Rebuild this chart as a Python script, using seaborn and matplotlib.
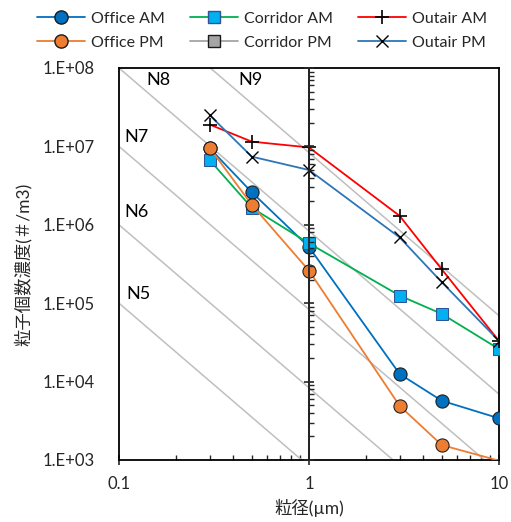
import numpy as np
import pandas as pd
import matplotlib
matplotlib.use("Agg")
import matplotlib.pyplot as plt
from matplotlib.ticker import FuncFormatter, LogLocator, NullFormatter
from matplotlib.lines import Line2D
import seaborn as sns

# Particle sizes (µm) and measured concentrations (#/m3)
sizes = [0.3, 0.5, 1, 3, 5, 10]
office_am = [9.5e6, 2.6e6, 5.2e5, 1.25e4, 5.7e3, 3.4e3]
office_pm = [9.6e6, 1.8e6, 2.6e5, 4.9e3, 1.55e3, 9.8e2]
corridor_am = [6.7e6, 1.65e6, 5.8e5, 1.25e5, 7.3e4, 2.6e4]
corridor_pm = []
outair_am = [1.9e7, 1.15e7, 9.7e6, 1.3e6, 2.7e5, 3.3e4]
outair_pm = [2.5e7, 7.4e6, 5.0e6, 6.9e5, 1.85e5, 3.3e4]

# ISO 14644-1 cleanliness classes drawn as reference lines
iso_classes = [5, 6, 7, 8, 9]
iso_labels = ["N5", "N6", "N7", "N8", "N9"]
iso_label_pos = {"N5": (0.127, 1.31e5), "N6": (0.124, 1.46e6), "N7": (0.123, 1.32e7),
                 "N8": (0.162, 7.0e7), "N9": (0.495, 7.0e7)}

x_label = "粒径(µm)"
y_label = "粒子個数濃度(＃/m3)"

sns.set_style("white")
plt.rcParams["font.family"] = ["Lato", "Noto Sans CJK JP", "DejaVu Sans"]

XMIN, XMAX, YMIN, YMAX = 0.1, 10, 1e3, 1e8

fig = plt.figure(figsize=(5.11, 5.22), dpi=100)
ax = fig.add_axes([119 / 511, 62 / 522, 380 / 511, 392 / 522])
ax.set_xscale("log")
ax.set_yscale("log")
ax.set_xlim(XMIN, XMAX)
ax.set_ylim(YMIN, YMAX)

# class lines: Cn = 10^N * (0.1 / D)^2.08
d_grid = np.logspace(-1, 1, 200)
for n, lab in zip(iso_classes, iso_labels):
    conc = 10.0 ** n * (0.1 / d_grid) ** 2.08
    sns.lineplot(x=d_grid, y=conc, ax=ax, color="#BFBFBF", linewidth=1.1,
                 sort=False, zorder=1)
    tx, ty = iso_label_pos[lab]
    ax.text(tx, ty, lab, fontsize=13, ha="center", va="center", color="#000000")

ax.axvline(1, color="black", linewidth=1.3, zorder=2)

series = [
    ("Office AM", office_am, dict(color="#0070C0", marker="o", markersize=9.5,
                                  markerfacecolor="#0070C0", markeredgecolor="#1A1A1A")),
    ("Corridor AM", corridor_am, dict(color="#00B050", marker="s", markersize=8,
                                      markerfacecolor="#00B0F0", markeredgecolor="#2F5597")),
    ("Outair AM", outair_am, dict(color="#FF0000", marker="+", markersize=10,
                                  markeredgecolor="#000000", markeredgewidth=1.2)),
    ("Office PM", office_pm, dict(color="#ED7D31", marker="o", markersize=9.5,
                                  markerfacecolor="#ED7D31", markeredgecolor="#1A1A1A")),
    ("Corridor PM", corridor_pm, dict(color="#A5A5A5", marker="s", markersize=8,
                                      markerfacecolor="#A5A5A5", markeredgecolor="#1A1A1A")),
    ("Outair PM", outair_pm, dict(color="#2E75B6", marker="x", markersize=8,
                                  markeredgecolor="#000000", markeredgewidth=1.0)),
]

handles = {}
for i, (name, vals, style) in enumerate(series):
    if len(vals):
        df = pd.DataFrame({"size": sizes, "conc": vals})
        inside = [j for j, v in enumerate(vals) if YMIN <= v <= YMAX]
        sns.lineplot(data=df, x="size", y="conc", ax=ax, linewidth=1.3,
                     markevery=inside, zorder=3 + i, **style)
    handles[name] = Line2D([], [], linewidth=1.3, **style)

ax.yaxis.set_major_locator(LogLocator(base=10, numticks=10))
ax.yaxis.set_major_formatter(FuncFormatter(lambda v, p: f"1.E+{int(round(np.log10(v))):02d}"))
ax.yaxis.set_minor_formatter(NullFormatter())
ax.xaxis.set_major_formatter(FuncFormatter(lambda v, p: f"{v:g}"))
ax.xaxis.set_minor_formatter(NullFormatter())
ax.tick_params(axis="y", which="both", left=False, labelleft=True, labelsize=12, pad=14)
ax.tick_params(axis="x", which="major", bottom=True, direction="inout", length=7,
               width=1.2, labelsize=12, pad=8)
ax.tick_params(axis="x", which="minor", bottom=True, direction="in", length=3.5, width=1.0)
for s in ax.spines.values():
    s.set_color("black")
    s.set_linewidth(1.3)

ax.set_xlabel(x_label, fontsize=12.5, labelpad=5)
ax.set_ylabel(y_label, fontsize=12.5, labelpad=8)

# vertical axis crossing at x = 1, carrying the y ticks
ax2 = fig.add_axes(ax.get_position(), sharex=ax, sharey=ax)
ax2.patch.set_visible(False)
for s in ["top", "right", "bottom"]:
    ax2.spines[s].set_visible(False)
ax2.spines["left"].set_position(("data", 1))
ax2.spines["left"].set_linewidth(1.3)
ax2.tick_params(axis="y", which="major", left=True, direction="inout", length=7,
                width=1.2, labelleft=False)
ax2.tick_params(axis="y", which="minor", left=True, direction="in", length=3.5, width=1.0)
ax2.tick_params(axis="x", which="both", bottom=False, labelbottom=False)
ax2.set_zorder(ax.get_zorder() + 1)

order = ["Office AM", "Office PM", "Corridor AM", "Corridor PM", "Outair AM", "Outair PM"]
fig.legend([handles[k] for k in order], order, loc="center", ncol=3,
           bbox_to_anchor=(0.513, 0.941), frameon=False, fontsize=11.5,
           handlelength=3.0, handletextpad=0.35, columnspacing=1.6, labelspacing=0.62)

fig.savefig("out.png", dpi=100)
